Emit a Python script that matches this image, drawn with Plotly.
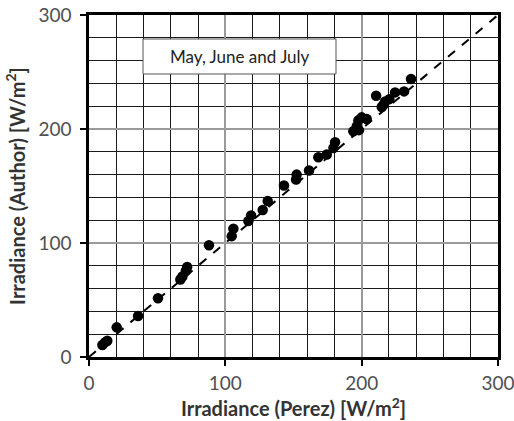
import plotly.graph_objects as go

perez = [9.8, 11.7, 13.4, 20.3, 36, 50.6, 67, 68.5, 71, 72, 88,
         104.7, 105.9, 116.9, 118.9, 127.4, 131.1, 143, 151.9, 152.3,
         161.4, 168.2, 174.4, 179.3, 180.5, 193.9, 196.4, 197.6, 198,
         200, 203.7, 210.6, 214.7, 216, 217.2, 220.3, 224.5, 231.1, 236.2]
author = [10.5, 12.8, 14.3, 26, 36, 51.6, 68, 70.6, 75.5, 79, 98,
          106, 112.6, 119.3, 124.2, 128.9, 136.8, 150.5, 155.7, 160,
          163.6, 175.2, 177.6, 183.4, 188.4, 198, 202.4, 207.6, 199,
          210.2, 208.8, 229.2, 219.3, 221.3, 224.2, 226.2, 232.1, 233, 243.8]

line_x = [0, 300]
line_y = [0, 300]
tick_vals = [0, 100, 200, 300]
label_text = "May, June and July"
x_title = "Irradiance (Perez) [W/m<sup>2</sup>]"
y_title = "Irradiance (Author) [W/m<sup>2</sup>]"

fig = go.Figure()
fig.add_trace(go.Scatter(x=line_x, y=line_y, mode="lines",
                         line=dict(color="black", width=2, dash="dash"),
                         showlegend=False, hoverinfo="skip"))
fig.add_trace(go.Scatter(x=perez, y=author, mode="markers",
                         marker=dict(color="black", size=10.5),
                         showlegend=False))

axis_common = dict(
    range=[0, 300], tickvals=tick_vals, ticks="outside", ticklen=6,
    tickwidth=1.5, tickcolor="black", automargin=False,
    ticklabeloverflow="allow",
    showline=True, linecolor="black", linewidth=2.5, mirror=True,
    showgrid=True, gridcolor="#9a9a9a", gridwidth=1.5,
    minor=dict(dtick=20, showgrid=True, gridcolor="#1a1a1a", gridwidth=1.4, ticks=""),
    zeroline=False,
    tickfont=dict(family="Lato", size=19, color="#505050"),
)

fig.update_layout(
    width=514, height=421,
    margin=dict(l=89, r=16, t=15, b=64),
    paper_bgcolor="white", plot_bgcolor="white",
    xaxis=dict(**axis_common, ticklabelstandoff=1,
               title=dict(text=x_title, font=dict(family="Lato", size=20, color="#333333", weight="bold"),
                          standoff=4)),
    yaxis=dict(**axis_common, ticklabelstandoff=5,
               title=dict(text=y_title, font=dict(family="Lato", size=20, color="#333333", weight="bold"),
                          standoff=8)),
    shapes=[dict(type="rect", xref="paper", yref="paper",
                 x0=(143 - 89) / 409, x1=(336 - 89) / 409,
                 y0=(357 - 74) / 342, y1=(357 - 39) / 342,
                 fillcolor="white", line=dict(color="#555555", width=1), layer="above")],
    annotations=[dict(text=label_text, xref="paper", yref="paper",
                      x=(240 - 89) / 409, y=(357 - 56.5) / 342,
                      xanchor="center", yanchor="middle",
                      showarrow=False, font=dict(family="Lato", size=17, color="#222222"))],
)

fig.write_html("out.html")
